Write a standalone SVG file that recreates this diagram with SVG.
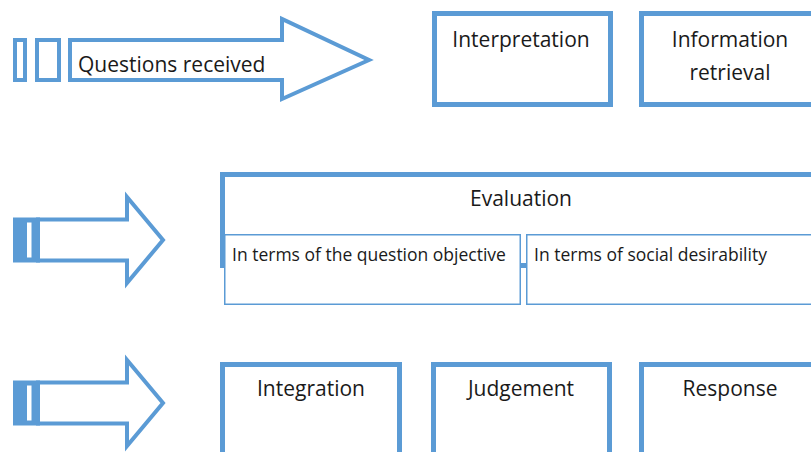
<svg xmlns="http://www.w3.org/2000/svg" width="811" height="452" viewBox="0 0 811 452">
  <style>
    .box { fill: #ffffff; stroke: #5b9bd5; stroke-width: 5; }
    .sub { fill: #ffffff; stroke: #5b9bd5; stroke-width: 1.5; }
    .arrow { fill: #ffffff; stroke: #5b9bd5; stroke-width: 4; stroke-linejoin: miter; }
    .bar { fill: #5b9bd5; }
    .lbl { font-family: "Open Sans", "Liberation Sans", sans-serif; font-size: 21px; fill: #1a1a1a; }
    .small { font-family: "Open Sans", "Liberation Sans", sans-serif; font-size: 17.5px; fill: #1a1a1a; }
  </style>
  <rect width="811" height="452" fill="#ffffff"/>

  <g id="connectors">
    <g id="arrow-questions">
      <rect class="arrow" x="15" y="40" width="10" height="40"/>
      <rect class="arrow" x="37" y="40" width="22" height="40"/>
      <polygon class="arrow" points="70,40 282,40 282,19 369,60 282,99 282,80 70,80"/>
      <text class="lbl" x="78" y="72">Questions received</text>
    </g>
    <g id="arrow-row2">
      <polygon class="arrow" points="38,219.5 127,219.5 127,197 163,240 127,283 127,260.5 38,260.5"/>
      <rect class="bar" x="13" y="217.5" width="27" height="45"/>
      <rect x="27" y="222.5" width="4.5" height="35" fill="#ffffff"/>
    </g>
    <g id="arrow-row3">
      <polygon class="arrow" points="38,382.5 127,382.5 127,360 163,403 127,446 127,423.5 38,423.5"/>
      <rect class="bar" x="13" y="380.5" width="27" height="45"/>
      <rect x="27" y="385.5" width="4.5" height="35" fill="#ffffff"/>
    </g>
  </g>

  <g id="interpretation">
    <rect class="box" x="434.5" y="13.5" width="176" height="91"/>
    <text class="lbl" x="521" y="47" text-anchor="middle">Interpretation</text>
  </g>
  <g id="information-retrieval">
    <rect class="box" x="641.5" y="13.5" width="200" height="91"/>
    <text class="lbl" x="730" y="47" text-anchor="middle">Information</text>
    <text class="lbl" x="730" y="80" text-anchor="middle">retrieval</text>
  </g>

  <g id="evaluation">
    <rect class="box" x="222.5" y="174.5" width="620" height="91"/>
    <text class="lbl" x="521" y="206" text-anchor="middle">Evaluation</text>
  </g>
  <g id="question-objective">
    <rect class="sub" x="224.75" y="234.75" width="295.5" height="69.5"/>
    <text class="small" x="232" y="261">In terms of the question objective</text>
  </g>
  <g id="social-desirability">
    <rect class="sub" x="526.75" y="234.75" width="300" height="69.5"/>
    <text class="small" x="534" y="261">In terms of social desirability</text>
  </g>

  <g id="integration">
    <rect class="box" x="222.5" y="364.5" width="177" height="140"/>
    <text class="lbl" x="311" y="396" text-anchor="middle">Integration</text>
  </g>
  <g id="judgement">
    <rect class="box" x="433.5" y="364.5" width="176" height="140"/>
    <text class="lbl" x="521" y="396" text-anchor="middle">Judgement</text>
  </g>
  <g id="response">
    <rect class="box" x="641.5" y="364.5" width="200" height="140"/>
    <text class="lbl" x="730" y="396" text-anchor="middle">Response</text>
  </g>
</svg>
